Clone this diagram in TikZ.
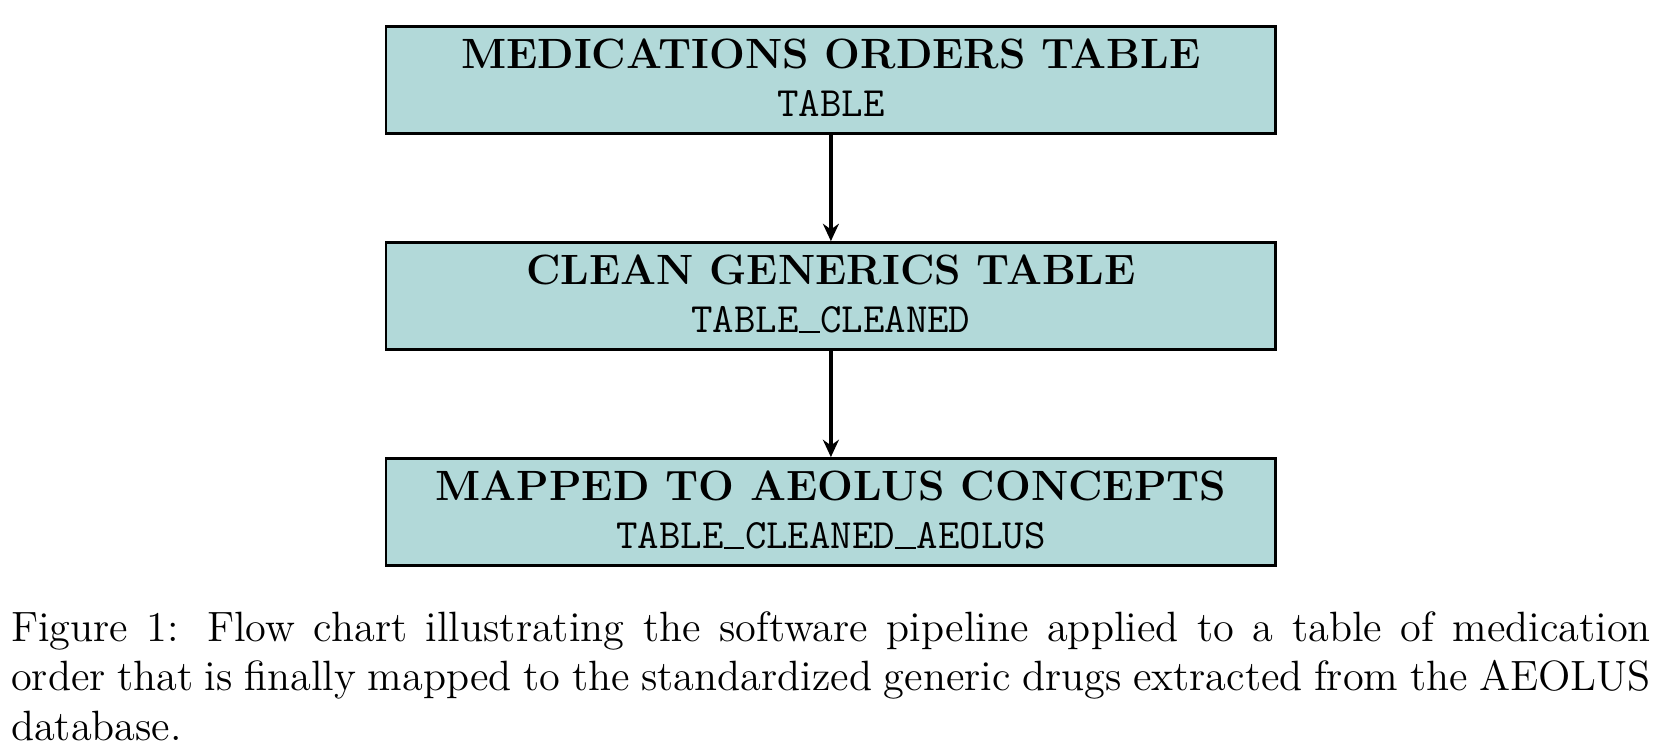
\documentclass[tikz,border=0pt]{standalone}
\usetikzlibrary{positioning,arrows.meta}
\tikzset{
  tablebox/.style={draw, fill=teal!30, line width=0.8pt, minimum width=256.3pt, minimum height=30.8pt, align=center, inner sep=0pt, font=\fontsize{12.2}{13.9}\selectfont},
  flowarrow/.style={line width=1.3pt, -{Stealth[length=5pt,width=4.6pt]}}
}
\newcommand{\boxtitle}[2]{\rule{0pt}{12pt}\bfseries #1\\\fontsize{12}{13.9}\selectfont\ttfamily #2\rule[-5pt]{0pt}{5pt}}
\newcommand{\ttus}{\rlap{\rule[-0.2pt]{.5em}{.5pt}}\phantom{A}}
\begin{document}
\begin{tikzpicture}
        \useasboundingbox (0,0) rectangle (480.1pt,-217.2pt);
        \node [tablebox] (orders) at (239.3pt,-23.1pt) {\boxtitle{MEDICATIONS ORDERS TABLE}{TABLE}};
        \node [tablebox, below=30.5pt of orders] (cleaned) {\boxtitle{CLEAN GENERICS TABLE}{TABLE\ttus CLEANED}};
        \node [tablebox, below=30.5pt of cleaned] (aeolus) {\boxtitle{MAPPED TO AEOLUS CONCEPTS}{TABLE\ttus CLEANED\ttus AEOLUS}};
        \draw [flowarrow] (orders) -- (cleaned);
        \draw [flowarrow] (cleaned) -- (aeolus);
        \node [anchor=north west, inner sep=0pt, text width=472.3pt, align=justify, font=\fontsize{12.2}{14.2}\selectfont] (caption) at (3pt,-176pt) {Figure 1: Flow chart illustrating the software pipeline applied to a table of medication\linebreak order that is finally mapped to the standardized generic drugs extracted from the AEOLUS\linebreak database.};
    \end{tikzpicture}
\end{document}
